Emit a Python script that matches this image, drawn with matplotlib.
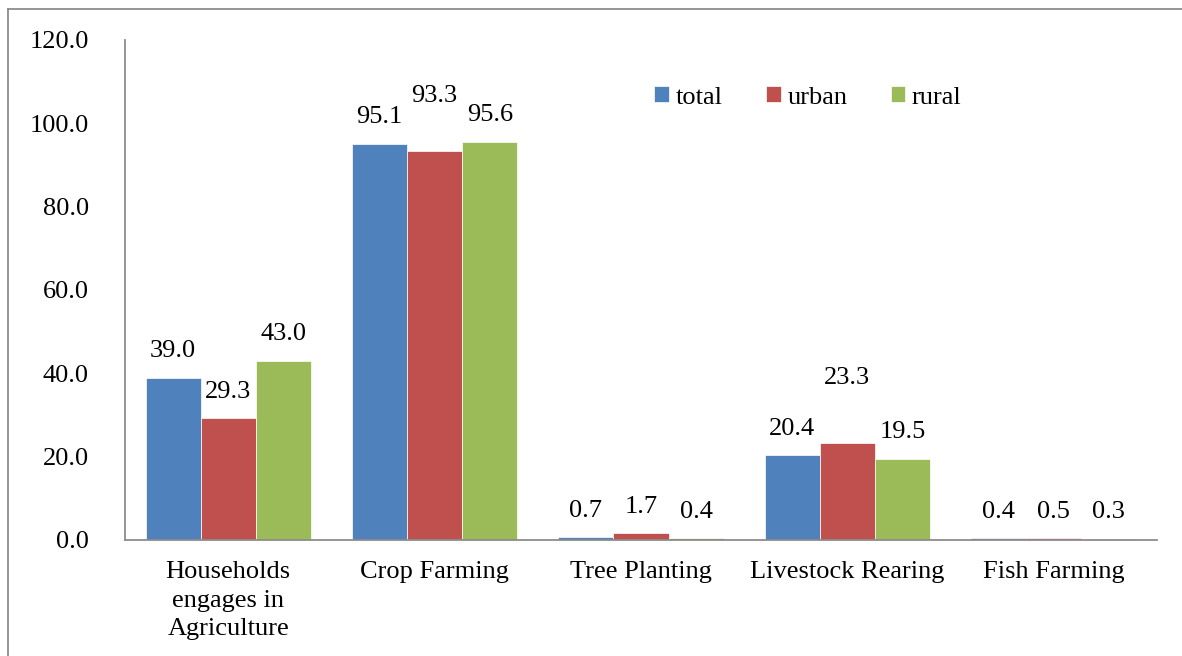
import matplotlib.pyplot as plt
import numpy as np

categories = ['Households\nengages in\nAgriculture', 'Crop Farming', 'Tree Planting',
              'Livestock Rearing', 'Fish Farming']
total = [39.0, 95.1, 0.7, 20.4, 0.4]
urban = [29.3, 93.3, 1.7, 23.3, 0.5]
rural = [43.0, 95.6, 0.4, 19.5, 0.3]
series_names = ['total', 'urban', 'rural']
colors = ['#4F81BD', '#C0504D', '#9BBB59']
yticks = [0, 20, 40, 60, 80, 100, 120]

# labels moved up by hand in the original (series index, category index) -> lift in pt
extra_lift = {(1, 1): 21, (1, 3): 28}

plt.rcParams['font.family'] = ['Liberation Serif', 'DejaVu Serif']
plt.rcParams['font.size'] = 19

fig = plt.figure(figsize=(11.82, 6.56), dpi=100)
ax = fig.add_axes([125 / 1182, 1 - 540 / 656, (1157 - 125) / 1182, 500 / 656])

x = np.arange(len(categories))
w = 0.267
for i, (vals, name, c) in enumerate(zip([total, urban, rural], series_names, colors)):
    bars = ax.bar(x + (i - 1) * w, vals, w, color=c, label=name, edgecolor='white', linewidth=0.5)
    for j, b in enumerate(bars):
        lift = 19 + extra_lift.get((i, j), 0)
        ax.annotate(f'{vals[j]:.1f}', (b.get_x() + b.get_width() / 2, b.get_height()),
                    xytext=(0, lift), textcoords='offset points', ha='center', va='center')

ax.set_xlim(-0.5, len(categories) - 0.5)
ax.set_ylim(0, 120)
ax.set_yticks(yticks)
ax.set_yticklabels([f'{v:.1f}' for v in yticks])
ax.set_xticks(x)
ax.set_xticklabels(categories, linespacing=1.4, va='top')
ax.tick_params(axis='both', length=0)
ax.tick_params(axis='y', pad=26)
ax.tick_params(axis='x', pad=15)
for s in ['top', 'right']:
    ax.spines[s].set_visible(False)
for s in ['left', 'bottom']:
    ax.spines[s].set_color('#8c8c8c')
    ax.spines[s].set_linewidth(1.3)

ax.legend(loc='center left', bbox_to_anchor=(0.513, 0.885), ncol=3, frameon=False,
          handlelength=0.55, handleheight=0.55, handletextpad=0.25, columnspacing=1.65,
          fontsize=19, borderpad=0, borderaxespad=0)

# outer chart frame (top and left edges visible)
fig.add_artist(plt.Line2D([8 / 1182, 1], [1 - 9 / 656, 1 - 9 / 656], color='#8c8c8c', lw=1.3))
fig.add_artist(plt.Line2D([8 / 1182, 8 / 1182], [0, 1 - 9 / 656], color='#8c8c8c', lw=1.3))

fig.savefig('out.png', dpi=100)
